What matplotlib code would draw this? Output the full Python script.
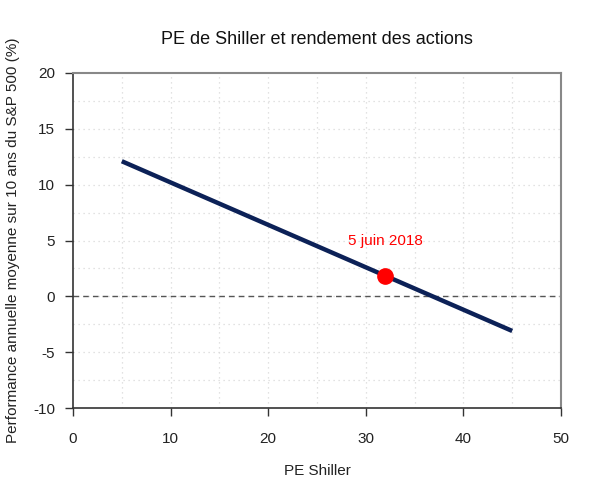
import matplotlib
matplotlib.use("Agg")
import matplotlib.pyplot as plt
import numpy as np

plt.rcParams['font.family'] = ['Liberation Sans', 'DejaVu Sans']
plt.rcParams['axes.unicode_minus'] = False

pe_line = [5, 45]
ret_line = [12.1, -3.1]
pe_point = [32]
ret_point = [1.85]
point_label = "5 juin 2018"
label_pos = (32, 5.0)

xticks = [0, 10, 20, 30, 40, 50]
yticks = [-10, -5, 0, 5, 10, 15, 20]

fig = plt.figure(figsize=(6, 5), dpi=100)
ax = fig.add_axes([73/600, 1-408/500, (561-73)/600, (408-73)/500])

# grid
for gx in np.arange(5, 50, 5):
    ax.axvline(gx, color='#d9d9d9', lw=0.9, ls=(0, (1, 3)), zorder=0)
for gy in np.arange(-7.5, 20, 2.5):
    ax.axhline(gy, color='#d9d9d9', lw=0.9, ls=(0, (1, 3)), zorder=0)

ax.axhline(0, color='#555555', lw=1.0, ls=(0, (4, 3)), zorder=1)
ax.plot(pe_line, ret_line, color='#0c2157', lw=3.2, solid_capstyle='butt', zorder=2)
ax.plot(pe_point, ret_point, 'o', color='#ff0000', markersize=11, zorder=3)
ax.text(label_pos[0], label_pos[1], point_label, color='#ff0000', fontsize=11,
        ha='center', va='center')

ax.set_xlim(0, 50)
ax.set_ylim(-10, 20)
ax.set_xticks(xticks)
ax.set_yticks(yticks)
ax.tick_params(axis='both', labelsize=11, length=6, width=1, color='#333333',
               labelcolor='#222222')
ax.tick_params(axis='x', pad=11)
ax.tick_params(axis='y', pad=7)

for s in ['left', 'bottom']:
    ax.spines[s].set_color('#333333')
    ax.spines[s].set_linewidth(1.2)
for s in ['top', 'right']:
    ax.spines[s].set_color('#888888')
    ax.spines[s].set_linewidth(1.5)

ax.set_xlabel("PE Shiller", fontsize=11, labelpad=13, color='#222222')
ax.set_ylabel("Performance annuelle moyenne sur 10 ans du S&P 500 (%)", fontsize=11,
              labelpad=9, color='#222222')
fig.text(317/600, 1-39/500, "PE de Shiller et rendement des actions", fontsize=13,
         ha='center', va='center', color='#111111')

fig.savefig("out.png", dpi=100)
